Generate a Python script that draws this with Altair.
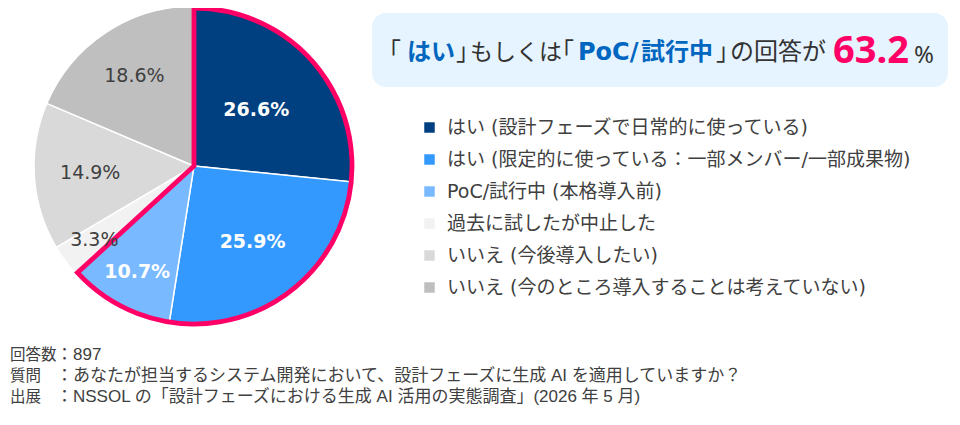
import altair as alt
import pandas as pd

# ---- data ----
categories = [
    "はい (設計フェーズで日常的に使っている)",
    "はい (限定的に使っている：一部メンバー/一部成果物)",
    "PoC/試行中 (本格導入前)",
    "過去に試したが中止した",
    "いいえ (今後導入したい)",
    "いいえ (今のところ導入することは考えていない)",
]
values = [26.6, 25.9, 10.7, 3.3, 14.9, 18.6]
colors = ["#003F80", "#3399FF", "#79B9FF", "#F2F2F2", "#D9D9D9", "#BFBFBF"]
highlight_total = 63.2
respondents = 897
question = "あなたが担当するシステム開発において、設計フェーズに生成 AI を適用していますか？"
source = "NSSOL の「設計フェーズにおける生成 AI 活用の実態調査」(2026 年 5 月)"

# ---- layout (not data) ----
CX, CY, R = 186, 158, 160
LABEL_RADIUS = [84, 96, 120, 124, 104, 108]
FONT = "DejaVu Sans, Noto Sans CJK JP"
JP = "Noto Sans CJK JP"
NUM = "Noto Sans"
FOOT = "Liberation Sans, Noto Sans CJK JP"

df = pd.DataFrame({
    "cat": categories,
    "value": values,
    "idx": list(range(len(values))),
    "label": [f"{v}%" for v in values],
    "lr": LABEL_RADIUS,
    "grp": ["hi", "hi", "hi", "lo", "lo", "lo"],
})

theta_scale = alt.Scale(domain=[0, 100])

pie = alt.Chart(df).mark_arc(outerRadius=R, stroke="white", strokeWidth=1.5).encode(
    x=alt.value(CX), y=alt.value(CY),
    theta=alt.Theta("value:Q", stack=True, scale=theta_scale),
    order=alt.Order("idx:Q"),
    color=alt.Color(
        "cat:N",
        sort=categories,
        scale=alt.Scale(domain=categories, range=colors),
        legend=alt.Legend(
            title=None, orient="none", legendX=412, legendY=110,
            symbolType="square", symbolSize=110, symbolStrokeWidth=0,
            labelFontSize=19, labelFont=FONT, labelColor="#404040",
            labelLimit=600, rowPadding=12, labelOffset=8, padding=0,
        ),
    ),
)

outline = alt.Chart(df).transform_filter(alt.datum.grp == "hi").transform_aggregate(
    value="sum(value)"
).mark_arc(outerRadius=R - 2, filled=False, stroke="#FF0066", strokeWidth=4.8,
           strokeJoin="miter").encode(
    x=alt.value(CX), y=alt.value(CY),
    theta=alt.Theta("value:Q", stack=True, scale=theta_scale),
)

base_lbl = alt.Chart(df).transform_window(
    cum="sum(value)", sort=[alt.SortField("idx")], frame=[None, 0]
).transform_calculate(mid="datum.cum - datum.value / 2")

lbl_hi = base_lbl.transform_filter(alt.datum.grp == "hi").mark_text(
    font=FONT, fontSize=19, fontWeight="bold", color="white"
).encode(
    x=alt.value(CX), y=alt.value(CY),
    theta=alt.Theta("mid:Q", stack=None, scale=theta_scale),
    radius=alt.Radius("lr:Q", scale=None),
    text="label:N",
)
lbl_lo = base_lbl.transform_filter(alt.datum.grp == "lo").mark_text(
    font=FONT, fontSize=19, color="#404040"
).encode(
    x=alt.value(CX), y=alt.value(CY),
    theta=alt.Theta("mid:Q", stack=None, scale=theta_scale),
    radius=alt.Radius("lr:Q", scale=None),
    text="label:N",
)

# ---- callout box ----
box = alt.Chart(pd.DataFrame({"a": [0]})).mark_rect(
    color="#E6F4FF", cornerRadius=14
).encode(x=alt.value(364), x2=alt.value(940), y=alt.value(5), y2=alt.value(79))


def txt(s, x, y, size, color="#333333", weight="normal", baseline="middle", font=FONT, align="left"):
    return alt.Chart(pd.DataFrame({"t": [s]})).mark_text(
        font=font, fontSize=size, fontWeight=weight, color=color,
        align=align, baseline=baseline,
    ).encode(x=alt.value(x), y=alt.value(y), text="t:N")


BLUE = "#0066C0"
PINK = "#FF0066"
ty = 45
title_runs = [
    txt("｢", 381, ty, 24, font=JP),
    txt("はい", 399, ty, 24, BLUE, "bold", font=JP),
    txt("｣", 448, ty, 24, font=JP),
    txt("もしくは", 462, ty, 23, font=JP),
    txt("｢", 554, ty, 24, font=JP),
    txt("PoC/", 570, ty, 24, BLUE, "bold"),
    txt("試行中", 633, ty, 24, BLUE, "bold", font=JP),
    txt("｣", 708, ty, 24, font=JP),
    txt("の回答が", 722, ty, 24, font=JP),
    txt(f"{highlight_total}", 825, 55, 38, PINK, "bold", baseline="alphabetic", font=NUM),
    txt("%", 906, 55, 24, baseline="alphabetic", font=NUM),
]

# ---- footer ----
fy = [347, 368, 389]
FC = "#404040"
footer = [
    txt("回答数", 2, fy[0], 15.5, FC, font=FOOT),
    txt(f"：{respondents}", 48, fy[0], 17, FC, font=FOOT),
    txt("質問", 2, fy[1], 15.5, FC, font=FOOT),
    txt(f"：{question}", 48, fy[1], 17, FC, font=FOOT),
    txt("出展", 2, fy[2], 15.5, FC, font=FOOT),
    txt(f"：{source}", 48, fy[2], 17, FC, font=FOOT),
]

chart = alt.layer(box, pie, outline, lbl_hi, lbl_lo, *title_runs, *footer).properties(
    width=944, height=409, autosize=alt.AutoSizeParams(type="none"), padding=0
).configure_view(stroke=None)

chart.save("out.html", embed_options={"renderer": "svg", "actions": False})
